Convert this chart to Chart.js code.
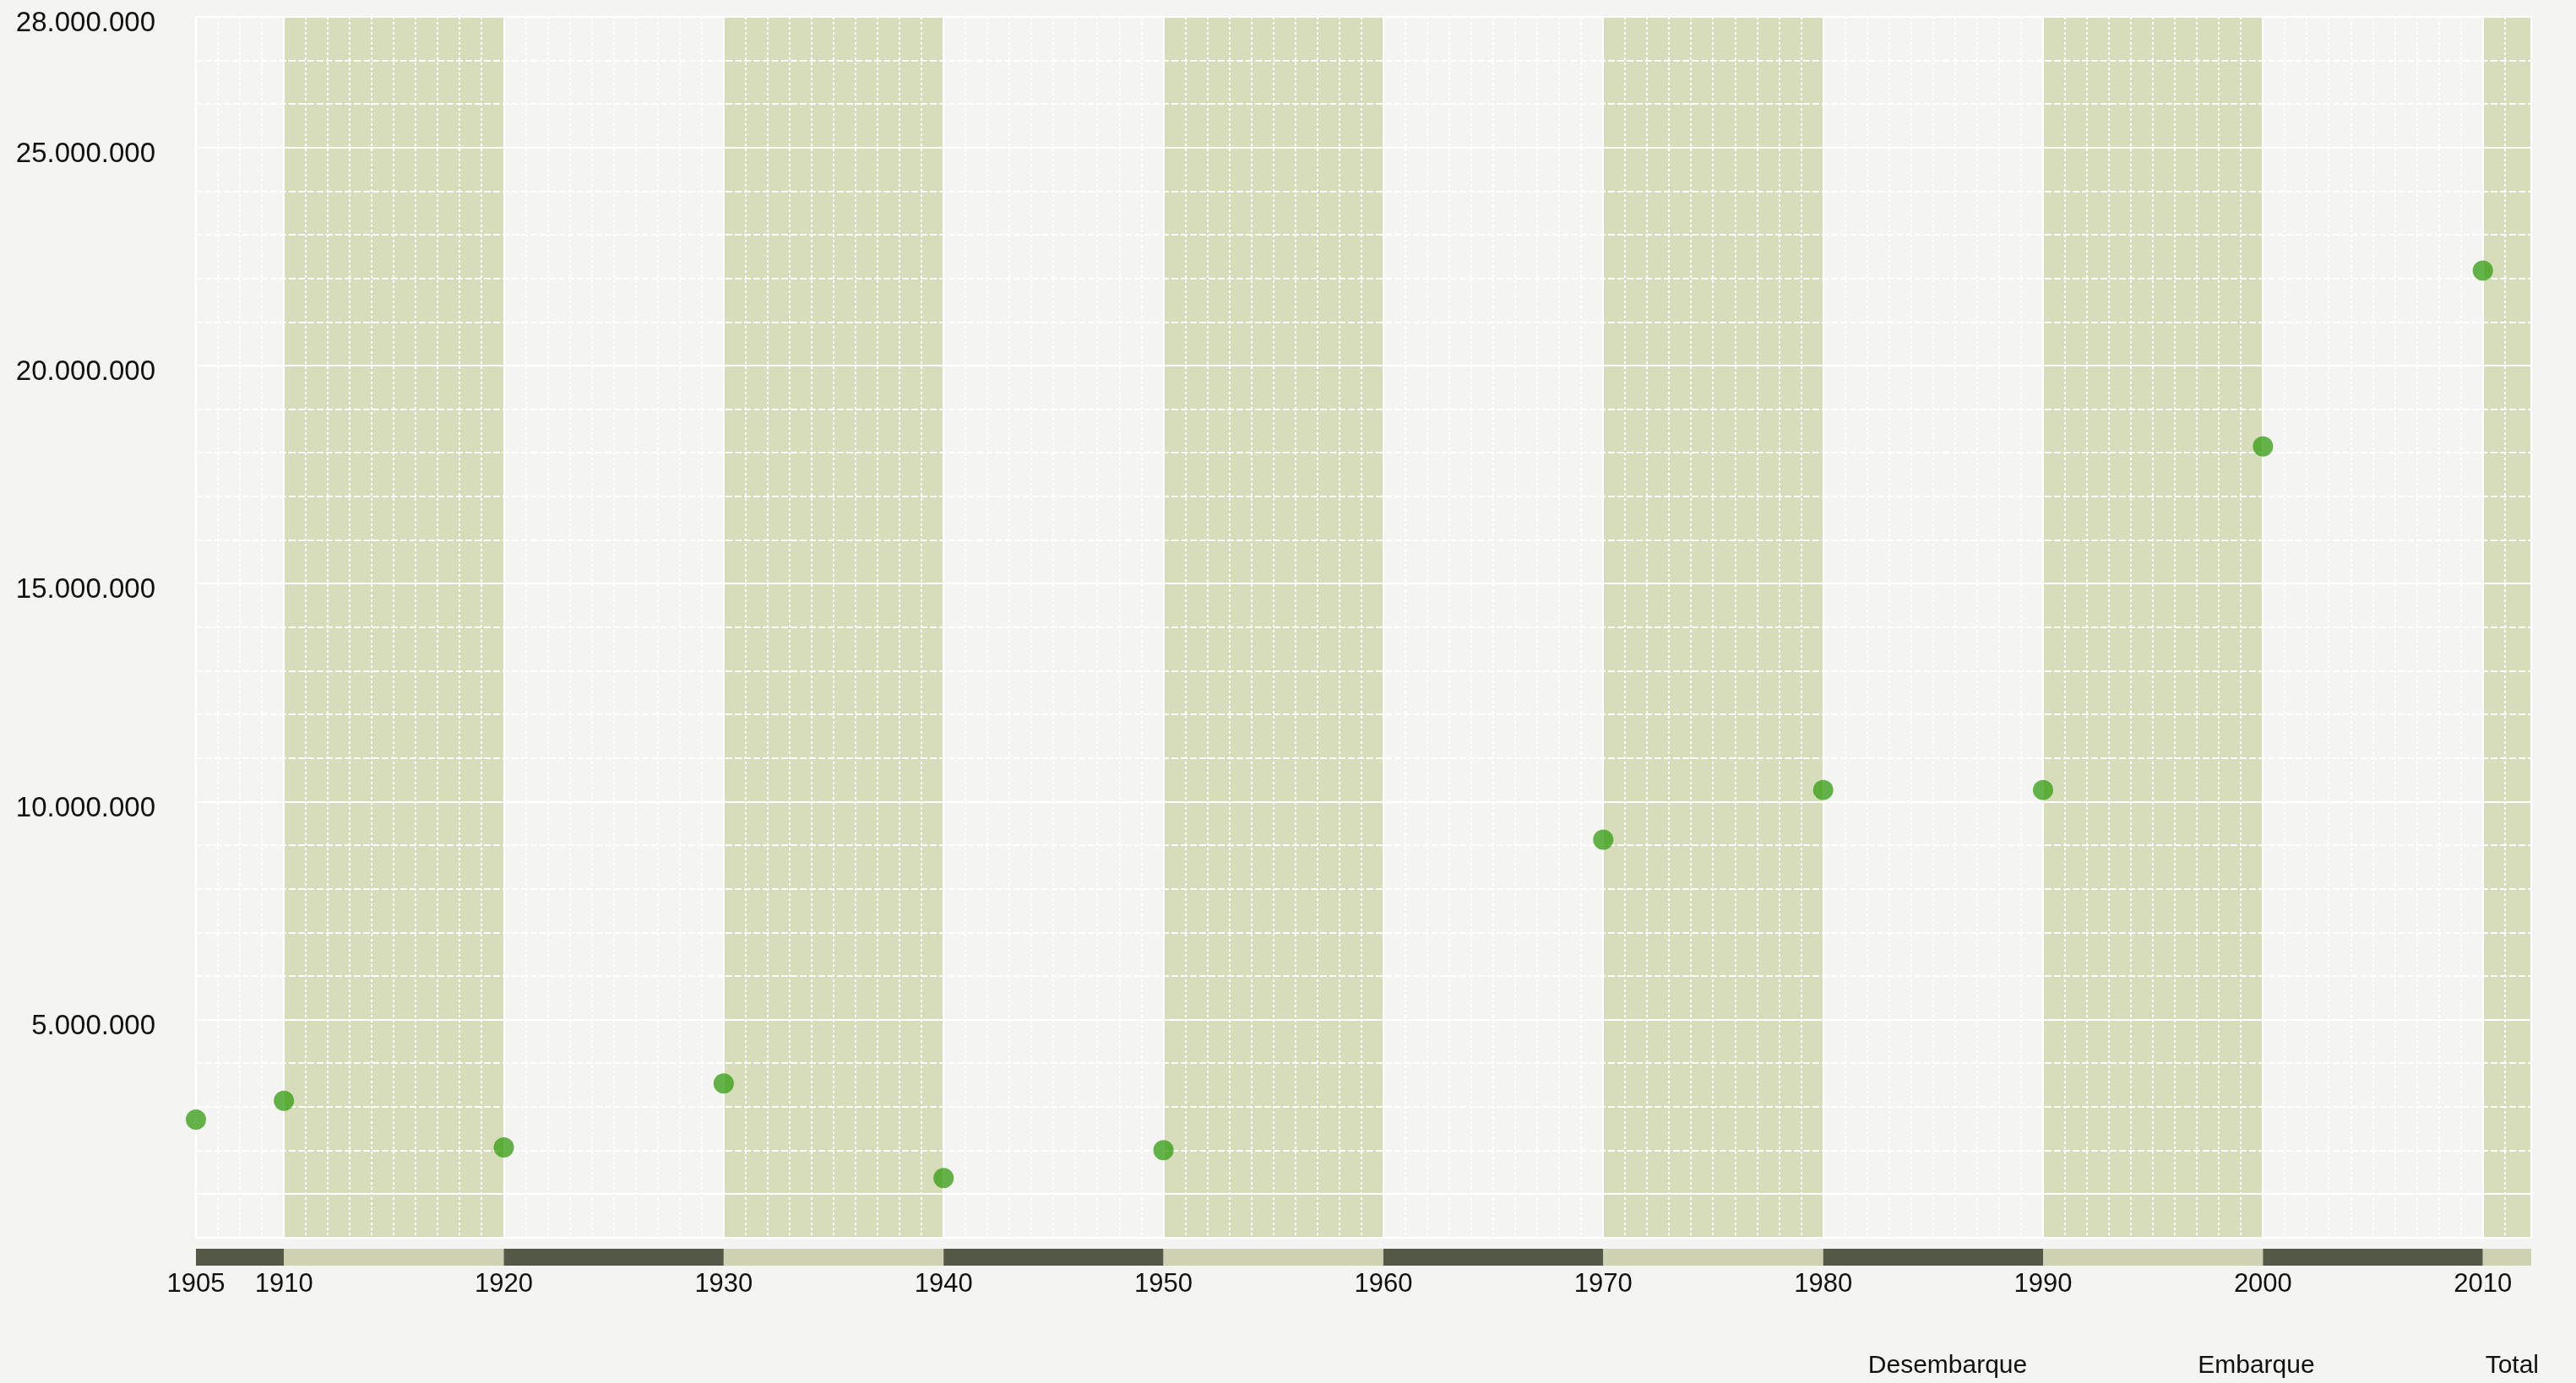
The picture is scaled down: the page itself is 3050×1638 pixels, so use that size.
<!DOCTYPE html>
<html>
<head>
<meta charset="utf-8">
<title>Passageiros</title>
<script src="https://cdn.jsdelivr.net/npm/chart.js@4"></script>
<style>
  html, body { margin: 0; padding: 0; background: #f4f4f2; }
  #wrap { width: 3050px; height: 1638px; }
</style>
</head>
<body>
<div id="wrap"><canvas id="chart"></canvas></div>
<script>
// values
const years = [1905, 1910, 1920, 1930, 1940, 1950, 1960, 1970, 1980, 1990, 2000, 2010];
const total = [2710000, 3140000, 2070000, 3540000, 1370000, 2010000, null, 9130000, 10270000, 10270000, 18150000, 22180000];
const yTickValues = [5000000, 10000000, 15000000, 20000000, 25000000, 28000000];
const yTickLabels = ['5.000.000', '10.000.000', '15.000.000', '20.000.000', '25.000.000', '28.000.000'];
const yPlainLines = [0, 1000000];
const legendLabels = ['Desembarque', 'Embarque', 'Total'];

// the original axis starts a year after the first label and runs a bit past 2010
const X_START = 1906;
const X_END = 2012.2;

const FONT = 'Liberation Sans, Arial, sans-serif';
const BAND = '#d7dcbb';
const BAR_DARK = '#545846';
const BAR_LIGHT = '#ced2b2';

// green bands in the plot + the striped bar under it
const decor = {
  id: 'decor',
  beforeDraw(chart) {
    const { ctx, chartArea: a, scales: { x } } = chart;
    const edges = [x.min, ...years.slice(1), x.max].map(v => x.getPixelForValue(v));
    ctx.save();
    for (let i = 0; i < edges.length - 1; i++) {
      const l = edges[i], r = edges[i + 1];
      if (i % 2 === 1) {
        ctx.fillStyle = BAND;
        ctx.fillRect(l, a.top, r - l, a.bottom - a.top);
      }
      ctx.fillStyle = i % 2 ? BAR_LIGHT : BAR_DARK;
      ctx.fillRect(l, a.bottom + 13, r - l, 20);
    }
    ctx.restore();
  }
};

window.addEventListener('DOMContentLoaded', function () {
  const ctx = document.getElementById('chart').getContext('2d');
  Chart.defaults.font.family = FONT;
  Chart.defaults.color = '#111';

  new Chart(ctx, {
    type: 'scatter',
    data: {
      datasets: [{
        label: 'Total',
        data: years.map((yr, i) => ({ x: Math.max(yr, X_START), y: total[i] })),
        pointRadius: 12,
        pointHoverRadius: 12,
        pointBorderWidth: 0,
        backgroundColor: 'rgba(48,155,14,0.74)',
        clip: false
      }]
    },
    options: {
      responsive: true,
      maintainAspectRatio: false,
      animation: false,
      layout: { padding: { top: 0, right: 0, bottom: -5, left: 0 } },
      plugins: {
        tooltip: { enabled: false },
        legend: {
          position: 'bottom',
          align: 'end',
          onClick: null,
          labels: {
            boxWidth: 143,
            padding: 44,
            font: { size: 30 },
            generateLabels: () => legendLabels.map(t => ({
              text: t,
              fillStyle: 'rgba(0,0,0,0)',
              strokeStyle: 'rgba(0,0,0,0)',
              lineWidth: 0,
              hidden: false,
              fontColor: '#111'
            }))
          }
        }
      },
      scales: {
        xMinor: {
          type: 'linear', position: 'bottom', min: X_START, max: X_END,
          ticks: { display: false, stepSize: 1 },
          grid: { color: '#ffffff', lineWidth: 2, drawTicks: false },
          border: { display: false, dash: [3, 3] }
        },
        yMinor: {
          type: 'linear', position: 'left', min: 0, max: 28000000,
          ticks: { display: false, stepSize: 1000000 },
          grid: { color: '#ffffff', lineWidth: 2, drawTicks: false },
          border: { display: false, dash: [8, 3] }
        },
        x: {
          type: 'linear', position: 'bottom', min: X_START, max: X_END,
          afterBuildTicks(s) {
            s.ticks = [s.min, ...years.slice(1), s.max].map(v => ({ value: v }));
          },
          afterFit(s) { s.paddingRight = 53; s.height = 93; },
          ticks: {
            autoSkip: false, maxRotation: 0, padding: 37,
            font: { size: 31 },
            callback: (v, i) => (i < years.length ? String(years[i]) : '')
          },
          grid: { color: '#ffffff', lineWidth: 2, drawTicks: false },
          border: { display: false }
        },
        y: {
          type: 'linear', position: 'left', min: 0, max: 28000000,
          afterBuildTicks(s) {
            s.ticks = [...yPlainLines, ...yTickValues].map(v => ({ value: v }));
          },
          afterFit(s) { s.width = 232; s.paddingTop = 20; },
          ticks: {
            autoSkip: false, padding: 48, labelOffset: 8,
            font: { size: 33 },
            callback: v => {
              const k = yTickValues.indexOf(v);
              return k < 0 ? '' : yTickLabels[k];
            }
          },
          grid: { color: '#ffffff', lineWidth: 2, drawTicks: false },
          border: { display: false }
        }
      }
    },
    plugins: [decor]
  });
});
</script>
</body>
</html>
